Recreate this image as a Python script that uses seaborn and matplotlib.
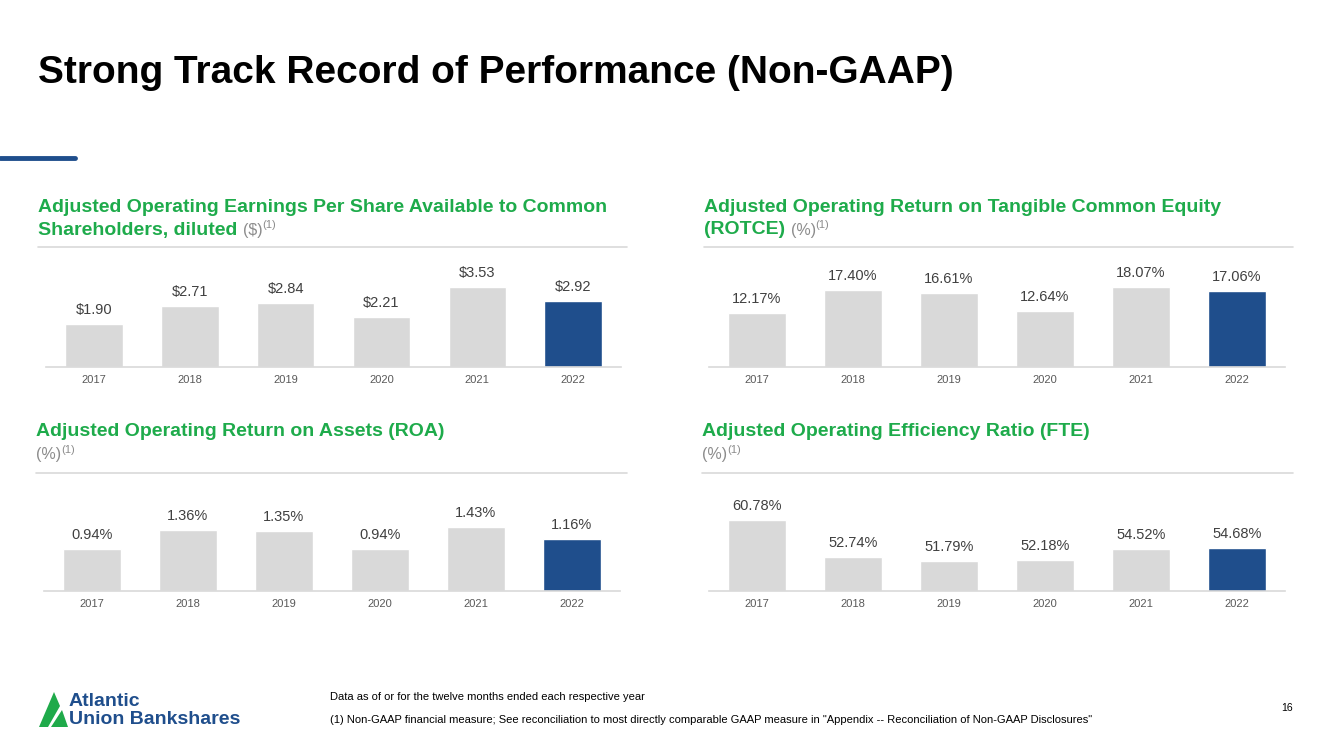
import matplotlib
matplotlib.use('Agg')
import matplotlib.pyplot as plt
import seaborn as sns
import pandas as pd
from matplotlib.patches import Polygon
from matplotlib.lines import Line2D

years = ['2017', '2018', '2019', '2020', '2021', '2022']
eps = [1.90, 2.71, 2.84, 2.21, 3.53, 2.92]
rotce = [12.17, 17.40, 16.61, 12.64, 18.07, 17.06]
roa = [0.94, 1.36, 1.35, 0.94, 1.43, 1.16]
efficiency = [60.78, 52.74, 51.79, 52.18, 54.52, 54.68]

eps_labels = [f'${v:.2f}' for v in eps]
rotce_labels = [f'{v:.2f}%' for v in rotce]
roa_labels = [f'{v:.2f}%' for v in roa]
efficiency_labels = [f'{v:.2f}%' for v in efficiency]

GREEN = '#1eab4b'
NAVY = '#1f4e8c'
BAR = '#d9d9d9'
TEXT = '#404040'
GREY = '#8c8c8c'
RULE = '#d9d9d9'
W, H = 1333, 749

sns.set_theme(style='white')
plt.rcParams['font.family'] = ['Liberation Sans', 'DejaVu Sans']

fig = plt.figure(figsize=(W / 100, H / 100), dpi=100)
renderer = fig.canvas.get_renderer()


def fx(x):
    return x / W


def fy(y):
    return 1 - y / H


palette = {y: (NAVY if y == '2022' else BAR) for y in years}


def panel(left, right, base, top, values, labels, ylim):
    ax = fig.add_axes([fx(left), fy(base), (right - left) / W, (base - top) / H])
    df = pd.DataFrame({'year': years, 'value': values})
    sns.barplot(data=df, x='year', y='value', hue='year', palette=palette,
                legend=False, width=0.6, saturation=1, ax=ax)
    ax.set_xlim(-0.5, 5.5)
    ax.set_ylim(*ylim)
    for cont, lab in zip(ax.containers, labels):
        ax.bar_label(cont, labels=[lab], padding=5, fontsize=10.5, color=TEXT)
    sns.despine(ax=ax, left=True)
    ax.spines['bottom'].set_color(RULE)
    ax.spines['bottom'].set_linewidth(1.2)
    ax.set_yticks([])
    ax.set_xlabel('')
    ax.set_ylabel('')
    ax.tick_params(axis='x', length=0, labelsize=8, labelcolor='#595959', pad=6)
    return ax


def heading(x, y1, line1, line2, suffix, rule_y, rule_x2):
    fig.text(fx(x), fy(y1), line1, fontsize=14, fontweight='bold', color=GREEN,
             va='center', ha='left')
    y2 = y1 + 23
    xe = fx(x)
    if line2:
        t = fig.text(fx(x), fy(y2), line2 + ' ', fontsize=14, fontweight='bold',
                     color=GREEN, va='center', ha='left')
        bb = t.get_window_extent(renderer)
        xe = bb.x1 / W
    t = fig.text(xe, fy(y2), suffix, fontsize=11.5, color=GREY, va='center', ha='left')
    bb = t.get_window_extent(renderer)
    fig.text(bb.x1 / W, fy(y2 - 5), '(1)', fontsize=8, color=GREY,
             va='center', ha='left')
    fig.add_artist(Line2D([fx(x), fx(rule_x2)], [fy(rule_y), fy(rule_y)],
                          color=RULE, lw=1.2))


# page title and accent rule
fig.text(fx(38), fy(73), 'Strong Track Record of Performance (Non-GAAP)',
         fontsize=28, fontweight='bold', color='black', va='center', ha='left')
fig.add_artist(Line2D([0, fx(75)], [fy(158), fy(158)], color=NAVY, lw=3.5))

# headings
heading(38, 207, 'Adjusted Operating Earnings Per Share Available to Common',
        'Shareholders, diluted', '($)', 247, 627)
heading(704, 207, 'Adjusted Operating Return on Tangible Common Equity',
        '(ROTCE)', '(%)', 247, 1293)
heading(36, 432, 'Adjusted Operating Return on Assets (ROA)', '', '(%)', 473, 627)
heading(702, 432, 'Adjusted Operating Efficiency Ratio (FTE)', '', '(%)', 473, 1293)

# charts
panel(46, 621, 367, 257, eps, eps_labels, (0, 4.87))
panel(709, 1285, 367, 257, rotce, rotce_labels, (0, 24.7))
panel(44, 620, 591, 481, roa, roa_labels, (0, 2.46))
panel(709, 1285, 591, 481, efficiency, efficiency_labels, (45.35, 69.3))

# footer
fig.text(fx(330), fy(697), 'Data as of or for the twelve months ended each respective year',
         fontsize=8, color='black', va='center', ha='left')
fig.text(fx(330), fy(720),
         '(1) Non-GAAP financial measure; See reconciliation to most directly comparable '
         'GAAP measure in "Appendix -- Reconciliation of Non-GAAP Disclosures"',
         fontsize=8, color='black', va='center', ha='left')
fig.text(fx(1287), fy(708), '16', fontsize=7.5, color='black', va='center', ha='center')

# logo
logo_a = [(39, 727), (54, 692), (60, 706), (48, 727)]
logo_b = [(51, 727), (62, 710), (68, 727)]
for pts in (logo_a, logo_b):
    fig.add_artist(Polygon([(fx(px), fy(py)) for px, py in pts], closed=True,
                           facecolor='#1faa4a', edgecolor='none',
                           transform=fig.transFigure))
fig.text(fx(69), fy(701), 'Atlantic', fontsize=14, fontweight='bold', color=NAVY,
         va='center', ha='left')
fig.text(fx(69), fy(719), 'Union Bankshares', fontsize=14, fontweight='bold',
         color=NAVY, va='center', ha='left')

fig.savefig('out.png', dpi=100)
